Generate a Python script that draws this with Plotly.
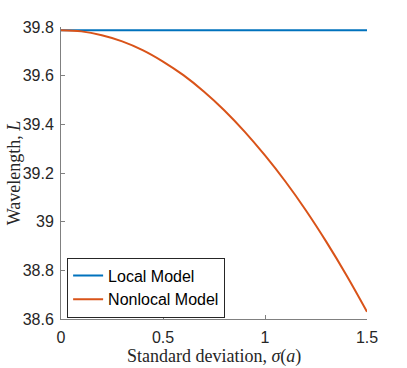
import plotly.graph_objects as go

# data
sigma = [0, 0.1, 0.2, 0.3, 0.4, 0.5, 0.6, 0.7, 0.8, 0.9, 1.0, 1.1, 1.2, 1.3, 1.4, 1.5]
local_L = [39.787] * len(sigma)
nonlocal_L = [39.787, 39.782, 39.766, 39.741, 39.705, 39.658, 39.602, 39.535,
              39.458, 39.370, 39.272, 39.165, 39.047, 38.918, 38.779, 38.630]

x_ticks = [0, 0.5, 1, 1.5]
x_ticktext = ["0", "0.5", "1", "1.5"]
y_ticks = [38.6, 38.8, 39.0, 39.2, 39.4, 39.6, 39.8]
y_ticktext = ["38.6", "38.8", "39", "39.2", "39.4", "39.6", "39.8"]

fig = go.Figure()
fig.add_trace(go.Scatter(x=sigma, y=local_L, mode="lines", name="Local Model",
                         line=dict(color="#0072BD", width=2)))
fig.add_trace(go.Scatter(x=sigma, y=nonlocal_L, mode="lines", name="Nonlocal Model",
                         line=dict(color="#D95319", width=2, shape="spline", smoothing=1)))

axis_common = dict(showgrid=False, zeroline=False, showline=True, linecolor="#808080",
                   linewidth=1, ticks="inside", ticklen=4, tickcolor="#808080",
                   automargin=False,
                   tickfont=dict(family="Liberation Sans, Arial", size=16, color="#262626"))

title_font = dict(family="Liberation Serif, DejaVu Serif", size=18, color="#262626")

fig.update_layout(
    width=407, height=368,
    margin=dict(l=61, r=40, t=27, b=49),
    plot_bgcolor="white", paper_bgcolor="white",
    xaxis=dict(range=[0, 1.5], tickvals=x_ticks, ticktext=x_ticktext,
               ticklabelstandoff=4, **axis_common),
    yaxis=dict(range=[38.6, 39.8], tickvals=y_ticks, ticktext=y_ticktext,
               ticklabelstandoff=3, **axis_common),
    legend=dict(x=0.02, y=0.005, xanchor="left", yanchor="bottom",
                bgcolor="white", bordercolor="#262626", borderwidth=1,
                font=dict(family="Liberation Sans, Arial", size=16, color="#000000"),
                tracegroupgap=0, itemwidth=30),
    showlegend=True,
    # axis titles as annotations so they sit where the reference has them
    annotations=[
        dict(text="Standard deviation, <i>σ</i>(<i>a</i>)", xref="paper", yref="paper",
             x=0.5, y=-0.13, xanchor="center", yanchor="middle", showarrow=False,
             font=title_font),
        dict(text="Wavelength, <i>L</i>", xref="paper", yref="paper",
             x=-0.153, y=0.5, xanchor="center", yanchor="middle", showarrow=False,
             textangle=-90, font=title_font),
    ],
)

# drop the page's default body margin so the figure fills the window
fig.write_html("out.html", config={"displayModeBar": False},
               post_script="document.body.style.margin='0';")
